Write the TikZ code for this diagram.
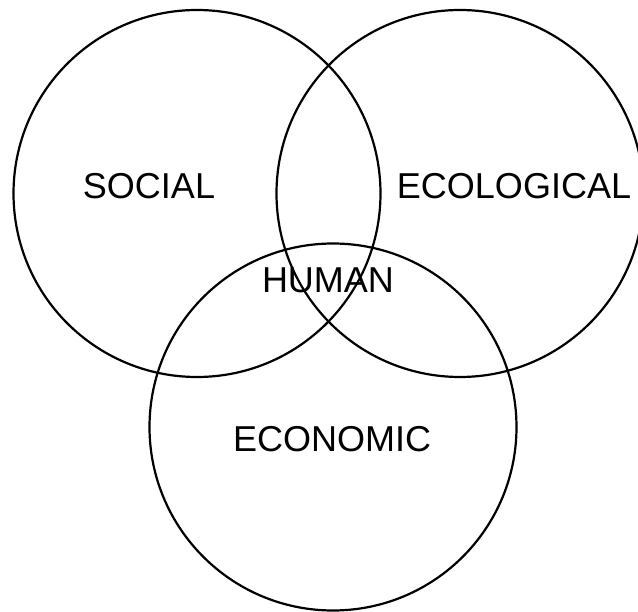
\documentclass[tikz,border=0pt]{standalone}
\usepackage{fontspec}
\setmainfont{Liberation Sans}
\usepackage{tikz}
\tikzset{setcircle/.style = {circle, draw, line width=2.2pt, minimum size=367pt, inner sep=0pt},
         setlabel/.style  = {font=\fontsize{36}{36}\selectfont, inner sep=0pt}}

\begin{document}
\begin{tikzpicture}[x=1pt, y=-1pt]
  \useasboundingbox (0,0) rectangle (638,612);
  \node[setcircle] (Soc) at (197,193.5) {};
  \node[setcircle] (Eco) at (460,193.5) {};
  \node[setcircle] (Econ) at (333,427) {};
  \node[setlabel] (SocL) at (149,186) {SOCIAL};
  \node[setlabel] (EcoL) at (514,186) {ECOLOGICAL};
  \node[setlabel] (HumL) at (328,280) {HUMAN};
  \node[setlabel] (EconL) at (332,439) {ECONOMIC};
\end{tikzpicture}
\end{document}
